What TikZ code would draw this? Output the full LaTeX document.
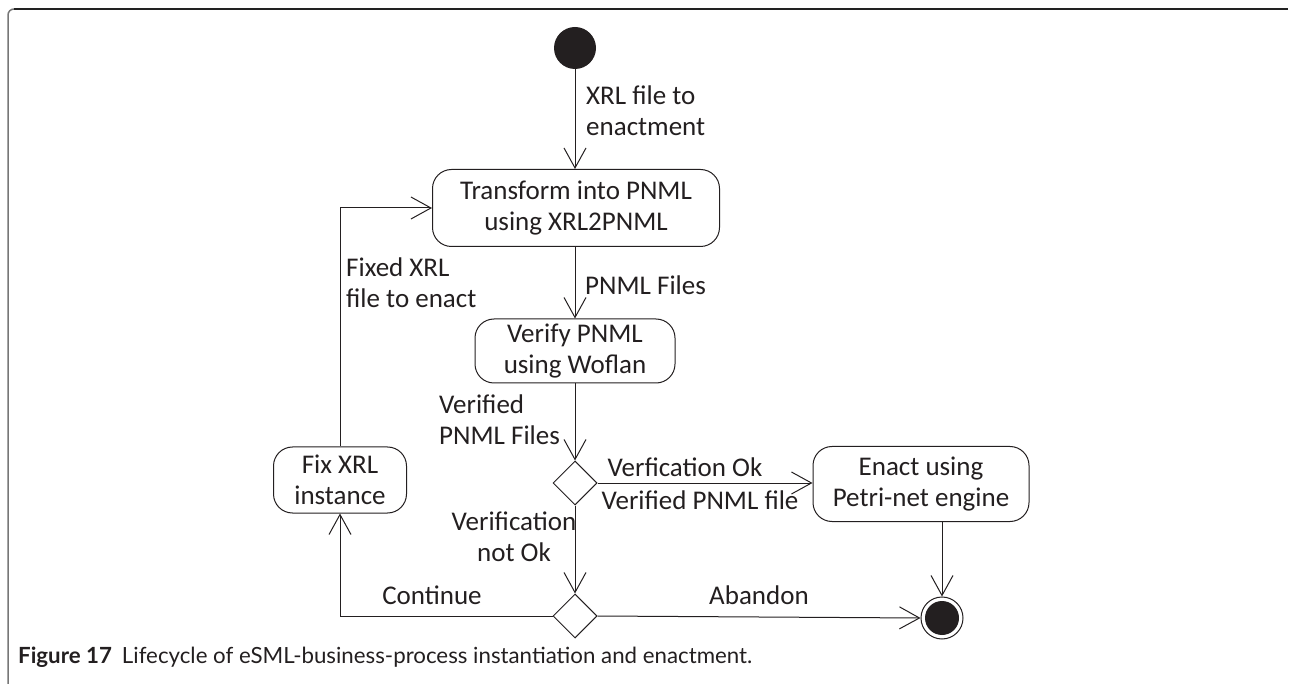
\documentclass[tikz,border=0pt]{standalone}
\usepackage{fontspec}
\setmainfont{Carlito}
\newfontfamily\capfont{Lato}
\usetikzlibrary{arrows.meta,shapes.geometric}
\definecolor{ink}{HTML}{231F20}
\definecolor{frameline}{HTML}{222222}
\definecolor{frameside}{HTML}{777777}
\tikzset{
  every node/.style={text=ink},
  txt/.style={font=\fontsize{27}{31}\selectfont, inner sep=0pt, align=left},
  txtc/.style={txt, align=center},
  action/.style={draw=ink, line width=1pt, rounded corners=19pt, align=center,
     font=\fontsize{27}{31}\selectfont, inner sep=0pt},
  choice/.style={draw=ink, line width=1pt, diamond, minimum width=44pt, minimum height=44pt, inner sep=0pt},
  flow/.style={draw=ink, line width=1pt, -{Straight Barb[length=20pt,width=22pt,line width=1pt]}},
}
\begin{document}
\begin{tikzpicture}[x=1pt,y=-1pt]
\useasboundingbox (0,0) rectangle (1291,684);
% outer frame
\draw[frameside, line width=1.5pt] (8,684) -- (8,15) arc[start angle=180, end angle=270, radius=6];
\draw[frameline, line width=1.5pt] (14,9) -- (1288,9);

% activity nodes
\node[circle, fill=ink, minimum size=42pt, inner sep=0pt] (start) at (575,48) {};
\node[action, minimum width=287pt, minimum height=77pt] (trans) at (576,208)
  {Transform into PNML\\using XRL2PNML};
\node[action, minimum width=200pt, minimum height=64pt] (verify) at (575,351)
  {Verify PNML\\using Woflan};
\node[choice] (dec1) at (575,483) {};
\node[action, minimum width=216pt, minimum height=75pt] (enact) at (921,484)
  {Enact using\\Petri-net engine};
\node[action, minimum width=133pt, minimum height=66pt] (fix) at (340,480)
  {Fix XRL\\instance};
\node[choice] (dec2) at (575,616) {};
\node[circle, draw=ink, line width=1pt, fill=white, minimum size=42pt, inner sep=0pt] (endc) at (942,618) {};
\fill[ink] (endc) circle[radius=17];

% flows
\draw[flow] (start) -- (start |- trans.north);
\draw[flow] (trans.south -| start) -- (verify.north -| start);
\draw[flow] (verify.south -| start) -- (dec1.north);
\draw[flow] (dec1.east) -- (enact.west |- dec1.east);
\draw[flow] (dec1.south) -- (dec2.north);
\draw[flow] (dec2.west) -| (fix.south);
\draw[flow] (fix.north) |- (trans.west);
\draw[flow] (dec2.east) -- (endc.west);
\draw[flow] (enact.south -| endc) -- (endc.north);

% flow labels
\node[txt, anchor=west] (l1) at (586,111) {XRL file to\\enactment};
\node[txt, anchor=west] (l2) at (585,285) {PNML Files};
\node[txt, anchor=west] (l3) at (346,283) {Fixed XRL\\file to enact};
\node[txt, anchor=west] (l4) at (439,420) {Verified\\PNML Files};
\node[txt] (l5) at (685,467) {Verfication Ok};
\node[txt] (l6) at (700,500) {Verified PNML file};
\node[txtc] (l7) at (514,537) {Verification\\not Ok};
\node[txt] (l8) at (432,595) {Continue};
\node[txt] (l9) at (759,595) {Abandon};

% caption
\node[anchor=west, inner sep=0pt, font=\capfont\fontsize{20}{24}\selectfont] (cap) at (18,657)
  {\resizebox{734pt}{!}{\textbf{Figure 17}\hspace{0.45em}Lifecycle of eSML-business-process instantiation and enactment.}};
\end{tikzpicture}
\end{document}
